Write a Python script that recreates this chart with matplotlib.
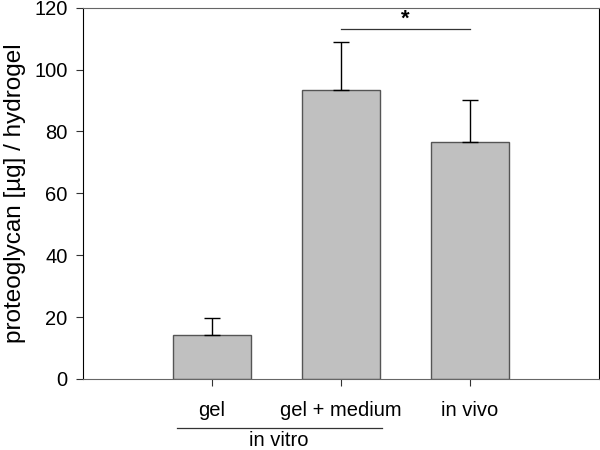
import matplotlib
matplotlib.use("Agg")
from matplotlib import pyplot as plt

plt.rcParams['font.family'] = ['Liberation Sans', 'DejaVu Sans']

categories = ['gel', 'gel + medium', 'in vivo']
means = [14.2, 93.4, 76.6]
errors = [5.6, 15.4, 13.5]
sig_y = 113.2

fig = plt.figure(figsize=(6, 4.5), dpi=100)
ax = fig.add_axes([0.1383, 0.1578, 0.8597, 0.8252])

x = [1, 2, 3]
ax.bar(x, means, width=0.6, color='#c0c0c0', edgecolor='#555555', linewidth=1.0, zorder=2)
ax.errorbar(x, means, yerr=[[0, 0, 0], errors], fmt='none', ecolor='black',
            elinewidth=1.0, capsize=6, capthick=1.0, zorder=3)

ax.set_xlim(0, 4)
ax.set_ylim(0, 120)
ax.set_yticks(range(0, 121, 20))
ax.set_xticks(x)
ax.set_xticklabels(categories)
ax.tick_params(axis='both', labelsize=14.5, direction='out', length=5, color='#333333')
ax.tick_params(axis='x', pad=11)
ax.tick_params(axis='y', pad=6)
ax.set_ylabel('proteoglycan [µg] / hydrogel', fontsize=17.5, labelpad=6)

for s in ['top', 'bottom']:
    ax.spines[s].set_color('#666666')
for s in ['left', 'right']:
    ax.spines[s].set_color('black')

# significance bar
ax.plot([2, 3], [sig_y, sig_y], color='#333333', lw=0.9, clip_on=False)
ax.text(2.5, sig_y - 0.3, '*', ha='center', va='bottom', fontsize=16, fontweight='bold')

# group label
ax.plot([0.73, 2.32], [-0.131, -0.131], color='#333333', lw=0.9,
        transform=ax.get_xaxis_transform(), clip_on=False)
ax.text(1.52, -0.166, 'in vitro', ha='center', va='center', fontsize=14.5,
        transform=ax.get_xaxis_transform())

fig.savefig('out.png', dpi=100)
